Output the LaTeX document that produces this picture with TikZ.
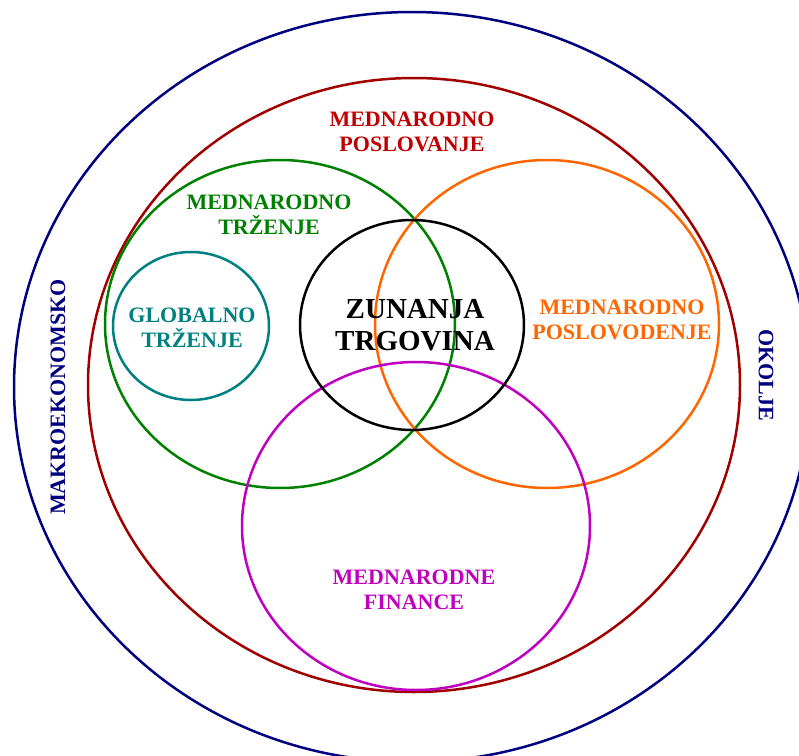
\documentclass[tikz,border=0pt]{standalone}
\usepackage{fontspec}
\setmainfont{Liberation Serif}
\definecolor{okoljeblue}{HTML}{000080}
\definecolor{poslred}{HTML}{A00000}
\definecolor{poslredtext}{HTML}{C00000}
\definecolor{trzgreen}{HTML}{008000}
\definecolor{globteal}{HTML}{008080}
\definecolor{vodorange}{HTML}{FF6600}
\definecolor{finmagenta}{HTML}{C000C0}
\tikzset{
  ring/.style={line width=1.25pt},
  lbl/.style={font=\bfseries\fontsize{11}{12.5}\selectfont,align=center,inner sep=0pt},
  biglbl/.style={font=\bfseries\fontsize{14.5}{16}\selectfont,align=center,inner sep=0pt}
}
\begin{document}
\begin{tikzpicture}[x=0.5pt,y=-0.5pt]
  \useasboundingbox (0,0) rectangle (799,756);
  % rings
  \draw[ring,okoljeblue] (412,387) ellipse [x radius=398,y radius=375];
  \draw[ring,poslred] (414,385) ellipse [x radius=326,y radius=307];
  \draw[ring,trzgreen] (280,324) ellipse [x radius=175,y radius=164];
  \draw[ring,vodorange] (547,324) ellipse [x radius=172,y radius=164];
  \draw[ring,finmagenta] (416,526) ellipse [x radius=174,y radius=164];
  \draw[ring,black] (412,325) ellipse [x radius=112,y radius=105];
  \draw[ring,globteal] (191,326) ellipse [x radius=78,y radius=74];
  % labels
  \node[lbl,poslredtext] (poslovanje) at (412,132) {MEDNARODNO\\POSLOVANJE};
  \node[lbl,trzgreen] (trzenje) at (269,215) {MEDNARODNO\\TRŽENJE};
  \node[lbl,globteal] (globalno) at (192,328) {GLOBALNO\\TRŽENJE};
  \node[biglbl,black] (trgovina) at (415,325) {ZUNANJA\\TRGOVINA};
  \node[lbl,vodorange] (poslovodenje) at (622,320) {MEDNARODNO\\POSLOVODENJE};
  \node[lbl,finmagenta] (finance) at (414,590) {MEDNARODNE\\FINANCE};
  \node[lbl,okoljeblue,rotate=90] (makro) at (58,397) {MAKROEKONOMSKO};
  \node[lbl,okoljeblue,rotate=-90] (okolje) at (766,375) {OKOLJE};
\end{tikzpicture}
\end{document}
